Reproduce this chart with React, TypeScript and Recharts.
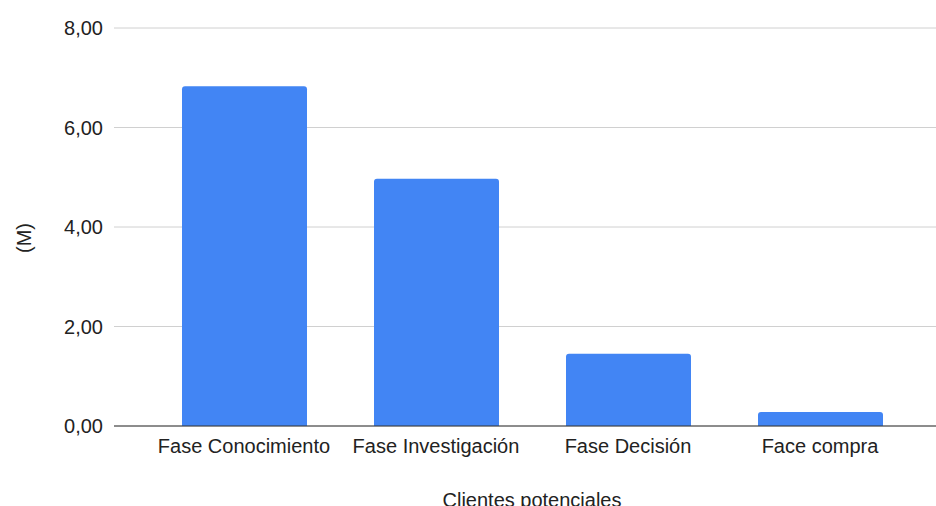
import { BarChart, Bar, XAxis, YAxis, CartesianGrid, Label } from "recharts";

const STAGES = ["Fase Conocimiento", "Fase Investigación", "Fase Decisión", "Face compra"];
const LEADS_M = [6.83, 4.97, 1.45, 0.28];
const Y_TICKS = [0, 2, 4, 6, 8];

const FONT = "'Liberation Sans', Arial, sans-serif";
const TEXT = "#222222";
const PAD_LEFT = 34;
const PAD_RIGHT = 20;

const data = STAGES.map((name, i) => ({ name, value: LEADS_M[i] }));

const fmt = (v: number) => v.toFixed(2).replace(".", ",");

export default function App() {
  return (
    <div style={{ position: "absolute", left: 0, top: 0, background: "#fff" }}>
      <BarChart
        width={936}
        height={506}
        data={data}
        margin={{ top: 28, right: 0, bottom: 0, left: 0 }}
      >
        <CartesianGrid horizontal vertical={false} stroke="#d0d0d0" strokeWidth={1} />
        <XAxis
          dataKey="name"
          height={80}
          padding={{ left: PAD_LEFT, right: PAD_RIGHT }}
          tickLine={false}
          tickSize={0}
          tickMargin={13}
          interval={0}
          axisLine={{ stroke: "#333333", strokeWidth: 1 }}
          tick={{ fill: TEXT, fontSize: 20, fontFamily: FONT }}
        >
          <Label
            content={({ viewBox }: any) => (
              <text
                x={viewBox.x + (PAD_LEFT + viewBox.width - PAD_RIGHT) / 2}
                y={viewBox.y + viewBox.height + 1}
                textAnchor="middle"
                fill={TEXT}
                fontSize={20}
                fontFamily={FONT}
              >
                Clientes potenciales
              </text>
            )}
          />
        </XAxis>
        <YAxis
          width={114}
          domain={[0, 8]}
          ticks={Y_TICKS}
          tickFormatter={fmt}
          axisLine={false}
          tickLine={false}
          tickSize={0}
          tickMargin={11}
          tick={{ fill: TEXT, fontSize: 20, fontFamily: FONT }}
        >
          <Label
            content={({ viewBox }: any) => {
              const cx = viewBox.x + 24;
              const cy = viewBox.y + viewBox.height / 2 + 11;
              return (
                <text
                  x={cx}
                  y={cy}
                  transform={`rotate(-90 ${cx} ${cy})`}
                  textAnchor="middle"
                  dominantBaseline="central"
                  fill={TEXT}
                  fontSize={20}
                  fontFamily={FONT}
                >
                  (M)
                </text>
              );
            }}
          />
        </YAxis>
        <Bar dataKey="value" fill="#4285f4" barSize={125} radius={[3, 3, 0, 0]} isAnimationActive={false} />
      </BarChart>
    </div>
  );
}
